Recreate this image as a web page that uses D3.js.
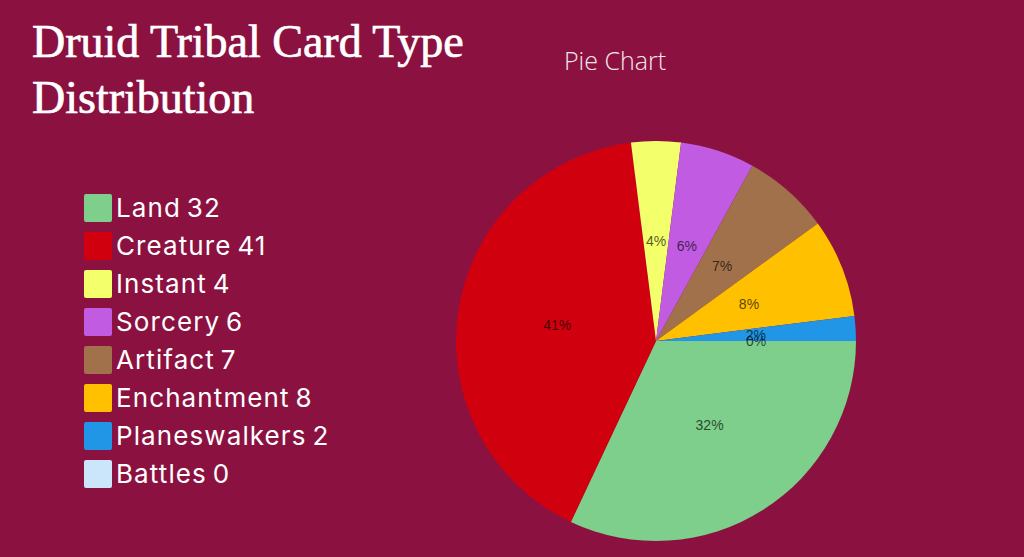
<!DOCTYPE html>
<html>
<head>
<meta charset="utf-8">
<script src="https://cdn.jsdelivr.net/npm/d3@7"></script>
<style>
  html, body { margin: 0; padding: 0; background: #8b1240; }
</style>
</head>
<body>
<div id="chart"></div>
<script>
// Card types and counts (they add up to 100)
let categories = ["Land", "Creature", "Instant", "Sorcery", "Artifact", "Enchantment", "Planeswalkers", "Battles"];
let counts = [32, 41, 4, 6, 7, 8, 2, 0];
let colors = ["#7dcf8b", "#d0000f", "#f4ff6c", "#c15be2", "#a0714b", "#ffc000", "#2196e6", "#cbe6fb"];
let titleLines = ["Druid Tribal Card Type", "Distribution"];

var width = 1024, height = 557;

var svg = d3.select("#chart")
    .append("svg")
    .attr("width", width)
    .attr("height", height);

svg.append("rect")
    .attr("width", width)
    .attr("height", height)
    .attr("fill", "#8b1240");

// Title
svg.selectAll(".title")
    .data(titleLines)
    .enter()
    .append("text")
    .attr("class", "title")
    .attr("x", 32)
    .attr("y", function (d, i) { return 57 + i * 56; })
    .attr("fill", "#fff")
    .attr("stroke", "#fff")
    .attr("stroke-width", 0.7)
    .style("font-family", "'Liberation Serif', 'DejaVu Serif', serif")
    .style("font-size", "46px")
    .text(function (d) { return d; });

svg.append("text")
    .attr("x", 615)
    .attr("y", 70)
    .attr("text-anchor", "middle")
    .attr("fill", "#f4e6ec")
    .style("font-family", "'Open Sans', sans-serif")
    .style("font-weight", "300")
    .style("font-size", "25px")
    .text("Pie Chart");

// Legend
var legend = svg.append("g").attr("transform", "translate(84,194)");
var row = legend.selectAll(".row")
    .data(categories)
    .enter()
    .append("g")
    .attr("transform", function (d, i) { return "translate(0," + i * 38 + ")"; });

row.append("rect")
    .attr("width", 28)
    .attr("height", 28)
    .attr("rx", 2)
    .attr("fill", function (d, i) { return colors[i]; });

row.append("text")
    .attr("x", 32)
    .attr("y", 23)
    .attr("fill", "#fff")
    .style("font-family", "Inter, 'Noto Sans', sans-serif")
    .style("font-size", "26px")
    .style("letter-spacing", "1.1px")
    .text(function (d, i) { return d + "\u2009" + counts[i]; });

// Pie
var total = d3.sum(counts);
var radius = 200;
var pie = d3.pie()
    .sort(null)
    .startAngle(Math.PI / 2)
    .endAngle(Math.PI / 2 + 2 * Math.PI)
    .value(function (d) { return d; });
var arc = d3.arc().innerRadius(0).outerRadius(radius);

var g = svg.append("g").attr("transform", "translate(656,341)");
var slices = pie(counts);

g.selectAll("path")
    .data(slices)
    .enter()
    .append("path")
    .attr("d", arc)
    .attr("fill", function (d, i) { return colors[i]; });

g.selectAll(".pct")
    .data(slices)
    .enter()
    .append("text")
    .attr("class", "pct")
    .attr("transform", function (d) { return "translate(" + arc.centroid(d) + ")"; })
    .attr("text-anchor", "middle")
    .attr("dy", "0.35em")
    .attr("fill", "#000")
    .attr("fill-opacity", 0.68)
    .style("font-family", "'Liberation Sans', Arial, sans-serif")
    .style("font-size", "14px")
    .text(function (d) { return Math.round(d.data / total * 100) + "%"; });
</script>
</body>
</html>
